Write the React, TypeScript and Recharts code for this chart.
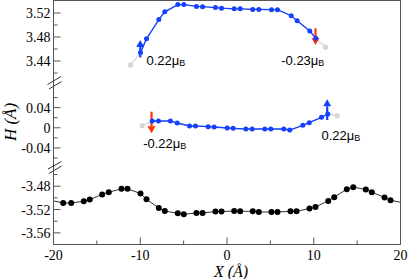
import React from "react";
import { ComposedChart, Line, Scatter, XAxis, YAxis, ReferenceLine, ReferenceDot } from "recharts";

// ---------- data ----------
const xTicks = [-20, -15, -10, -5, 0, 5, 10, 15, 20];

// upper layer (H ~ +3.5 Å)
const topX = [-9.97, -9.28, -7.86, -7.17, -5.67, -4.98, -3.52, -2.82, -1.33, -0.63, 0.83, 1.52, 2.97, 3.67, 5.13, 5.82, 7.4, 8.09, 9.54, 10.24];
const topH = [3.454, 3.477, 3.509, 3.522, 3.534, 3.534, 3.531, 3.5305, 3.529, 3.528, 3.527, 3.527, 3.526, 3.526, 3.5255, 3.5255, 3.5155, 3.507, 3.49, 3.478];
const topEndX = [-11.12, 11.35];
const topEndH = [3.433, 3.463];
const topTicks = [3.42, 3.44, 3.46, 3.48, 3.5, 3.52];
const topDomain = [3.4017, 3.5417];

// middle layer (H ~ 0)
const midX = [-8.63, -7.9, -6.52, -5.74, -4.32, -3.63, -2.17, -1.48, 0.02, 0.71, 2.17, 2.9, 4.36, 5.05, 6.55, 7.24, 8.74, 9.48, 10.89, 11.62];
const midH = [0.0135, 0.0135, 0.0135, 0.0095, 0.0036, 0.0036, 0.0022, 0.0016, -0.0004, -0.001, -0.0024, -0.0024, -0.0024, -0.0024, -0.0024, -0.0044, 0.005, 0.0101, 0.0208, 0.0274];
const midEndX = [-9.78, 12.7];
const midEndH = [0.0042, 0.024];
const midTicks = [-0.06, -0.04, -0.02, 0, 0.02, 0.04, 0.06];
const midDomain = [-0.0778, 0.0869];

// lower layer (H ~ -3.5 Å)
const botX = [-18.88, -17.96, -16.51, -15.82, -14.39, -13.63, -12.16, -11.47, -9.97, -9.28, -7.86, -7.17, -5.67, -4.98, -3.52, -2.82, -1.33, -0.63, 0.83, 1.52, 2.97, 3.67, 5.13, 5.82, 7.32, 8.01, 9.51, 10.2, 11.67, 12.36, 13.81, 14.55, 16.0, 16.69, 18.16, 18.85];
const botH = [-3.5087, -3.5087, -3.5057, -3.5028, -3.4942, -3.4902, -3.4845, -3.4845, -3.4924, -3.5023, -3.5173, -3.5225, -3.5265, -3.5282, -3.5259, -3.5259, -3.5235, -3.5235, -3.5225, -3.523, -3.523, -3.5242, -3.5242, -3.5242, -3.523, -3.523, -3.5183, -3.5156, -3.5052, -3.4988, -3.485, -3.4816, -3.4855, -3.4902, -3.4993, -3.504];
const botEdgeX = [-20, 20];
const botEdgeH = [-3.5052, -3.5075];
const botTicks = [-3.56, -3.54, -3.52, -3.5, -3.48, -3.46];
const botDomain = [-3.58, -3.447];

// magnetic moments (arrows + labels)
const topMomentX = [-10.0, 10.2];
const topMomentFrom = [3.446, 3.4945];
const topMomentTo = [3.475, 3.4667];
const topMomentLabel = ["0.22", "-0.23"];
const topLabelX = [-9.28, 6.25];
const topLabelH = [3.433, 3.433];

const midMomentX = [-8.7, 11.55];
const midMomentFrom = [0.032, 0.0155];
const midMomentTo = [-0.011, 0.0565];
const midMomentLabel = ["-0.22", "0.22"];
const midLabelX = [-9.66, 10.89];
const midLabelH = [-0.041, -0.0242];

// ---------- styles ----------
const W = 409;
const H = 279;
const AXIS = "#555";
const BLUE = "#1540ff";
const RED = "#ff3300";
const GREY = "#d6d6d6";
const SERIF = "'Liberation Serif', 'Times New Roman', serif";
const SANS = "'Liberation Sans', Arial, sans-serif";
const LEFT_W = 53.5;
const RIGHT_M = 8.5;

const pts = (xs: number[], ys: number[]) => xs.map((x, i) => ({ x, y: ys[i] }));

const fmt = (v: number) => (Math.abs(v) < 1e-9 ? "0" : v.toFixed(2));

const YTick = (props: any) => {
  const { x, y, payload } = props;
  const v = payload.value;
  const major = Math.round(v * 100) % 4 === 0;
  const ax = x + 3;
  return (
    <g>
      <line x1={ax} x2={ax + (major ? 7 : 4)} y1={y} y2={y} stroke={AXIS} strokeWidth={1} />
      {major && (
        <text x={x} y={y} dy={5} textAnchor="end" fontFamily={SERIF} fontSize={14} fill="#000">
          {fmt(v)}
        </text>
      )}
    </g>
  );
};

const XTick = (props: any) => {
  const { x, y, payload } = props;
  const v = payload.value;
  const major = Math.round(v) % 10 === 0;
  const ay = y - 3;
  return (
    <g>
      <line x1={x} x2={x} y1={ay} y2={ay - (major ? 7 : 4)} stroke={AXIS} strokeWidth={1} />
      {major && (
        <text x={x} y={y} dy={12} textAnchor="middle" fontFamily={SERIF} fontSize={14} fill="#000">
          {String(v)}
        </text>
      )}
    </g>
  );
};

const arrowShape = (color: string) => (props: any) => {
  const { x1, y1, x2, y2 } = props;
  const dir = y2 > y1 ? 1 : -1;
  const headLen = 7;
  const headW = 4;
  const yb = y2 - dir * headLen;
  return (
    <g>
      <line x1={x1} y1={y1} x2={x2} y2={yb} stroke={color} strokeWidth={2.2} />
      <polygon points={`${x2 - headW},${yb} ${x2 + headW},${yb} ${x2},${y2}`} fill={color} />
    </g>
  );
};

const muLabel = (text: string) => (props: any) => (
  <text x={props.cx} y={props.cy} fontFamily={SANS} fontSize={13} fill="#000">
    {text}
    <tspan>μ</tspan>
    <tspan fontSize={9} dy={1}>B</tspan>
  </text>
);

const dotShape = (color: string, r: number) => (p: any) => <circle cx={p.cx} cy={p.cy} r={r} fill={color} />;

type PanelProps = {
  top: number;
  bottom: number;
  domain: number[];
  ticks: number[];
  showX?: boolean;
  children?: React.ReactNode;
};

const Panel = ({ top, bottom, domain, ticks, showX, children }: PanelProps) => (
  <div style={{ position: "absolute", left: 0, top: 0 }}>
    <ComposedChart
      width={W}
      height={H}
      margin={{ top, right: RIGHT_M, bottom: showX ? 0 : H - bottom, left: 0 }}
    >
      <XAxis
        type="number"
        dataKey="x"
        domain={[-20, 20]}
        ticks={xTicks}
        interval={0}
        hide={!showX}
        height={showX ? H - bottom : 0}
        axisLine={{ stroke: AXIS }}
        tickLine={false}
        tickSize={0}
        tickMargin={3}
        tick={<XTick />}
        allowDataOverflow
      />
      <YAxis
        type="number"
        dataKey="y"
        domain={domain}
        ticks={ticks}
        interval={0}
        width={LEFT_W}
        axisLine={{ stroke: AXIS }}
        tickLine={false}
        tickSize={0}
        tickMargin={3}
        tick={<YTick />}
        allowDataOverflow
      />
      <ReferenceLine x={20} stroke={AXIS} strokeWidth={1} />
      {children}
    </ComposedChart>
  </div>
);

export default function App() {
  const topLine = pts([topEndX[0], ...topX, topEndX[1]], [topEndH[0], ...topH, topEndH[1]]);
  const midLine = pts([midEndX[0], ...midX, midEndX[1]], [midEndH[0], ...midH, midEndH[1]]);
  const botLine = pts([botEdgeX[0], ...botX, botEdgeX[1]], [botEdgeH[0], ...botH, botEdgeH[1]]);

  return (
    <div style={{ position: "absolute", left: 0, top: 0, width: W, height: H, background: "#fff" }}>
      {/* upper layer */}
      <Panel top={0} bottom={84} domain={topDomain} ticks={topTicks}>
        <ReferenceLine y={topDomain[1]} stroke={AXIS} strokeWidth={2} />
        <Line data={topLine} dataKey="y" stroke={GREY} strokeWidth={1.2} dot={false} isAnimationActive={false} />
        <Scatter data={pts(topEndX, topEndH)} shape={dotShape(GREY, 2.6)} isAnimationActive={false} />
        <Line
          data={pts(topX, topH)}
          dataKey="y"
          stroke={BLUE}
          strokeWidth={1.3}
          dot={{ r: 2.5, fill: BLUE, stroke: "none" }}
          isAnimationActive={false}
        />
        {topMomentX.map((x, i) => (
          <ReferenceLine
            key={"ta" + i}
            segment={[{ x, y: topMomentFrom[i] }, { x, y: topMomentTo[i] }]}
            shape={arrowShape(i === 0 ? BLUE : RED)}
            ifOverflow="visible"
          />
        ))}
        {topMomentLabel.map((t, i) => (
          <ReferenceDot key={"tl" + i} x={topLabelX[i]} y={topLabelH[i]} r={0} shape={muLabel(t)} ifOverflow="visible" />
        ))}
      </Panel>

      {/* middle layer */}
      <Panel top={84} bottom={167} domain={midDomain} ticks={midTicks}>
        <Line data={midLine} dataKey="y" stroke={GREY} strokeWidth={1.2} dot={false} isAnimationActive={false} />
        <Scatter data={pts(midEndX, midEndH)} shape={dotShape(GREY, 2.6)} isAnimationActive={false} />
        <Line
          data={pts(midX, midH)}
          dataKey="y"
          stroke={BLUE}
          strokeWidth={1.3}
          dot={{ r: 2.5, fill: BLUE, stroke: "none" }}
          isAnimationActive={false}
        />
        {midMomentX.map((x, i) => (
          <ReferenceLine
            key={"ma" + i}
            segment={[{ x, y: midMomentFrom[i] }, { x, y: midMomentTo[i] }]}
            shape={arrowShape(i === 0 ? RED : BLUE)}
            ifOverflow="visible"
          />
        ))}
        {midMomentLabel.map((t, i) => (
          <ReferenceDot key={"ml" + i} x={midLabelX[i]} y={midLabelH[i]} r={0} shape={muLabel(t)} ifOverflow="visible" />
        ))}
      </Panel>

      {/* lower layer */}
      <Panel top={167} bottom={244.5} domain={botDomain} ticks={botTicks} showX>
        <Line data={botLine} dataKey="y" stroke="#333" strokeWidth={1} dot={false} isAnimationActive={false} />
        <Scatter data={pts(botX, botH)} shape={dotShape("#000", 3)} isAnimationActive={false} />
      </Panel>

      {/* axis breaks and titles */}
      <svg width={W} height={H} style={{ position: "absolute", left: 0, top: 0, pointerEvents: "none" }}>
        <g stroke="#333" strokeWidth={1}>
          <line x1={47.5} y1={84.5} x2={61} y2={76.5} />
          <line x1={49} y1={89} x2={61.5} y2={81.5} />
          <line x1={48} y1={169} x2={61.5} y2={161.5} />
          <line x1={49} y1={173.5} x2={61.7} y2={166} />
        </g>
        <text
          transform="translate(16,122) rotate(-90)"
          textAnchor="middle"
          fontFamily={SERIF}
          fontStyle="italic"
          fontSize={17}
          fill="#000"
        >
          H (Å)
        </text>
        <text x={231} y={276.5} textAnchor="middle" fontFamily={SERIF} fontStyle="italic" fontSize={16}>
          X (Å)
        </text>
      </svg>
    </div>
  );
}
